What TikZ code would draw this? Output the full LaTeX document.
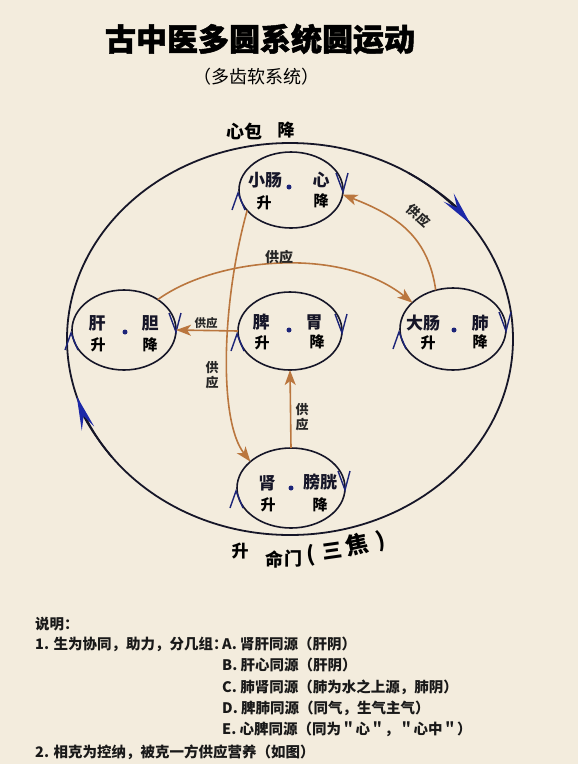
\documentclass[tikz,border=0pt]{standalone}
\usepackage{fontspec}
\setmainfont{Noto Sans CJK SC}
\newfontfamily\heavyfont{Noto Sans CJK SC}[BoldFeatures={FakeBold=1.6}]
\usetikzlibrary{arrows.meta,shapes.geometric}
\definecolor{bg}{RGB}{243,236,221}
\definecolor{ink}{RGB}{22,22,40}
\definecolor{navy}{RGB}{28,36,120}
\definecolor{royal}{RGB}{28,40,168}
\definecolor{copper}{RGB}{186,118,62}
\newcommand{\fs}[1]{\fontsize{#1}{#1}\selectfont}
\tikzset{
  organ/.style={draw=ink, line width=1.6pt, ellipse, inner sep=0pt, outer sep=0pt},
  nm/.style={font=\fs{17}\bfseries, text=ink, inner sep=0pt},
  sj/.style={font=\fs{15}\bfseries, text=black, inner sep=0pt},
  gy/.style={font=\fs{13}\bfseries, text=black!85, inner sep=0pt},
  gyv/.style={font=\fontsize{13}{15}\selectfont\bfseries, text=black!85, inner sep=0pt, align=center},
  dotc/.style={circle, fill=navy, inner sep=0pt, minimum size=5pt},
  chev/.style={navy, line width=1.4pt, line join=miter},
  bigarr/.style={ink, line width=1.8pt, -{Stealth[length=34pt, width=13pt, inset=13pt, color=royal]}},
  feed/.style={copper, line width=1.6pt, -{Stealth[length=15pt, width=11pt, inset=4pt]}},
  expl/.style={font=\fs{14.5}\bfseries, text=black!90, inner sep=0pt, anchor=west},
  btxt/.style={font=\fs{19}\bfseries, inner sep=0pt},
}
\newcommand{\chevs}[1]{%
  \draw[chev] (#1.west) ++(-7,20) -- ++(6,-17) -- ++(7,17);
  \draw[chev] (#1.east) ++(-7,-17) -- ++(7,19) -- ++(5,-19);}
\begin{document}
\begin{tikzpicture}[x=1pt, y=-1pt]
\useasboundingbox (0,0) rectangle (578,764);
\fill[bg] (0,0) rectangle (578,764);

% titles
\node[font=\fs{31}\heavyfont\bfseries, inner sep=0pt] (title) at (260,39) {古中医多圆系统圆运动};
\node[font=\fs{18}, inner sep=0pt] (sub) at (256,77) {（多齿软系统）};
\node[font=\fs{18}\bfseries, inner sep=0pt] (xb) at (244,131) {心包};
\node[font=\fs{17}\bfseries, inner sep=0pt] (xbj) at (286,130) {降};

% big circle
\node[draw=ink, line width=1.8pt, ellipse, minimum width=446pt, minimum height=392pt, inner sep=0pt] (big) at (290,339) {};
\draw[bigarr] (big.center) ++(-58:223 and 196) arc[start angle=-58, end angle=-36, x radius=223, y radius=196];
\draw[bigarr] (big.center) ++(143:223 and 196) arc[start angle=143, end angle=163, x radius=223, y radius=196];

% organ circles
\node[organ, minimum width=104pt, minimum height=76pt] (xc) at (291,190) {};
\node[organ, minimum width=104pt, minimum height=80pt] (gd) at (124,330) {};
\node[organ, minimum width=104pt, minimum height=78pt] (pw) at (290,331) {};
\node[organ, minimum width=106pt, minimum height=82pt] (df) at (453,329) {};
\node[organ, minimum width=108pt, minimum height=80pt] (sp) at (291,488) {};

\chevs{xc}
\chevs{gd}
\chevs{pw}
\chevs{df}
\chevs{sp}

% organ texts
\node[nm] (t1a) at (265,180) {小肠};
\node[nm] (t1b) at (321,180) {心};
\node[sj] (t1c) at (264,203) {升};
\node[sj] (t1d) at (321,201) {降};
\node[dotc] (d1) at (289,187) {};

\node[nm] (t2a) at (97,323) {肝};
\node[nm] (t2b) at (150,323) {胆};
\node[sj] (t2c) at (98,345) {升};
\node[sj] (t2d) at (150,345) {降};
\node[dotc] (d2) at (125,332) {};

\node[nm] (t3a) at (261,322) {脾};
\node[nm] (t3b) at (314,322) {胃};
\node[sj] (t3c) at (262,343) {升};
\node[sj] (t3d) at (317,342) {降};
\node[dotc] (d3) at (289,330) {};

\node[nm] (t4a) at (423,323) {大肠};
\node[nm] (t4b) at (480,323) {肺};
\node[sj] (t4c) at (428,343) {升};
\node[sj] (t4d) at (480,342) {降};
\node[dotc] (d4) at (454,330) {};

\node[nm] (t5a) at (267,483) {肾};
\node[nm] (t5b) at (320,482) {膀胱};
\node[sj] (t5c) at (268,505) {升};
\node[sj] (t5d) at (320,505) {降};
\node[dotc] (d5) at (291,488) {};

% supply arrows
\draw[feed] (df.114) .. controls (428,235) and (395,215) .. (xc.-5);
\node[gy, rotate=-42] (g1a) at (414,211.5) {供};
\node[gy, rotate=-42] (g1b) at (424,220.5) {应};

\draw[feed] (gd.42) .. controls (215,258) and (340,245) .. (df.147);
\node[gy, font=\fs{14}\bfseries] (g2) at (279,257) {供应};

\draw[feed] (pw.west) -- (gd.east);
\node[gy, font=\fs{11.5}\bfseries] (g3) at (206,323) {供应};

\draw[feed] (xc.205) .. controls (222,300) and (218,420) .. (sp.147);
\node[gyv] (g4) at (212,375.5) {供\\应};

\draw[feed] (sp.north) -- (pw.south);
\node[gyv] (g5) at (302,417) {供\\应};

% bottom label
\node[font=\fs{17}\bfseries, inner sep=0pt] (bs) at (240,551) {升};
\node[btxt, font=\fs{18}\bfseries] (bm1) at (274,559) {命};
\node[btxt, font=\fs{18}\bfseries] (bm2) at (293,559) {门};
\node[btxt, font=\fs{21}\bfseries, rotate=6] (bp1) at (311,555) {(};
\node[btxt, font=\fs{20}\bfseries, rotate=8] (bp2) at (332,551) {三};
\node[btxt, font=\fs{23}\bfseries, rotate=12] (bp3) at (357,545) {焦};
\node[btxt, font=\fs{21}\bfseries, rotate=14] (bp4) at (381,541) {)};

% explanation
\node[expl] (e0) at (35,624) {说明：};
\node[expl] (e1) at (35,644) {1. 生为协同，助力，分几组：};
\node[expl] (eA) at (222,644) {A. 肾肝同源（肝阴）};
\node[expl] (eB) at (222,665) {B. 肝心同源（肝阴）};
\node[expl] (eC) at (222,687) {C. 肺肾同源（肺为水之上源，肺阴）};
\node[expl] (eD) at (222,708) {D. 脾肺同源（同气，生气主气）};
\node[expl] (eE) at (222,729) {E. 心脾同源（同为＂心＂，＂心中＂）};
\node[expl] (e2) at (35,752) {2. 相克为控纳，被克一方供应营养（如图）};
\end{tikzpicture}
\end{document}
